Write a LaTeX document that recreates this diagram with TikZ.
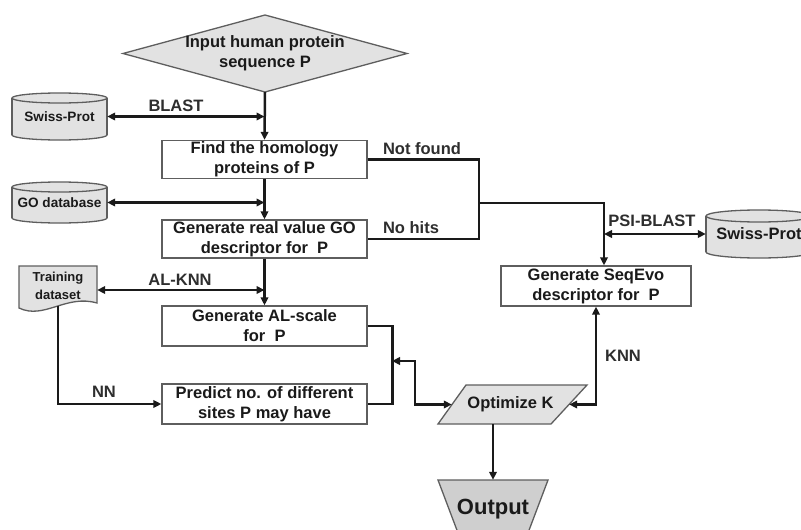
\documentclass[tikz,border=0pt]{standalone}
\usepackage{fontspec}
\setmainfont{Liberation Sans}
\usetikzlibrary{arrows.meta}
\definecolor{ink}{HTML}{1A1A1A}
\definecolor{lbltext}{HTML}{2E2E2E}
\definecolor{boxline}{HTML}{5E5E5E}
\definecolor{lightfill}{HTML}{E2E2E2}
\definecolor{darkfill}{HTML}{CFCFCF}
\begin{document}
\begin{tikzpicture}[x=1pt,y=-1pt,
  conn/.style={draw=ink, line width=2.5pt},
  tip/.style={-{Triangle[length=8pt,width=7.5pt]}},
  dbl/.style={{Triangle[length=8pt,width=7.5pt]}-{Triangle[length=8pt,width=7.5pt]}},
  procbox/.style={draw=boxline, line width=1.3pt, fill=white, minimum width=205pt, minimum height=38pt, align=center, text=ink, font=\fontsize{16.5}{20}\selectfont\bfseries, inner sep=0pt},
  shapeline/.style={draw=boxline, line width=1.3pt},
  plaintext/.style={align=center, text=ink, inner sep=0pt, font=\fontsize{16.5}{20}\selectfont\bfseries},
  dbtext/.style={align=center, text=ink, inner sep=0pt, font=\fontsize{13.6}{18}\selectfont\bfseries},
  lbl/.style={text=lbltext, inner sep=0pt, font=\fontsize{16.5}{20}\selectfont\bfseries}
]
\path[use as bounding box, fill=white] (0,0) rectangle (801,530);

% ---- shapes drawn first ----
% diamond
\path[shapeline, fill=lightfill] (265,15) -- (407,53.5) -- (265,92) -- (123,53.5) -- cycle;
% Swiss-Prot (left) cylinder
\filldraw[shapeline, fill=lightfill] (59.5,135) ellipse [x radius=47.5pt, y radius=5pt];
\fill[lightfill] (12,98) rectangle (107,135);
\draw[shapeline] (12,98) -- (12,135) (107,98) -- (107,135);
\filldraw[shapeline, fill=lightfill] (59.5,98) ellipse [x radius=47.5pt, y radius=5pt];
% GO database cylinder
\filldraw[shapeline, fill=lightfill] (59.5,218) ellipse [x radius=47.5pt, y radius=5pt];
\fill[lightfill] (12,187) rectangle (107,218);
\draw[shapeline] (12,187) -- (12,218) (107,187) -- (107,218);
\filldraw[shapeline, fill=lightfill] (59.5,187) ellipse [x radius=47.5pt, y radius=5pt];
% Swiss-Prot (right) cylinder
\filldraw[shapeline, fill=lightfill] (759,252) ellipse [x radius=53pt, y radius=6pt];
\fill[lightfill] (706,216) rectangle (812,252);
\draw[shapeline] (706,216) -- (706,252) (812,216) -- (812,252);
\filldraw[shapeline, fill=lightfill] (759,216) ellipse [x radius=53pt, y radius=6pt];
% Training dataset document
\path[shapeline, fill=lightfill] (19,266) -- (97,266) -- (97,303)
   .. controls (66,294) and (44,320) .. (19,308) -- cycle;
% Optimize K parallelogram
\path[shapeline, fill=lightfill] (466,385) -- (587,385) -- (551,424) -- (438,424) -- cycle;
% Output trapezoid
\path[shapeline, fill=darkfill] (438,480) -- (548,480) -- (517,562) -- (469,562) -- cycle;

% ---- nodes ----
\node[plaintext, minimum width=284pt, minimum height=77pt] (inp) at (265,53.5) {Input human protein\\sequence P};
\node[dbtext, minimum width=95pt, minimum height=47pt] (swissl) at (59.5,116.5) {Swiss-Prot};
\node[dbtext, minimum width=95pt, minimum height=41pt] (godb) at (59.5,202.5) {GO database};
\node[plaintext, minimum width=106pt, minimum height=48pt] (swissr) at (759,234) {Swiss-Prot};
\node[dbtext, font=\fontsize{13}{18}\selectfont\bfseries, minimum width=78pt, minimum height=40pt] (train) at (58,286) {Training\\dataset};

\node[procbox] (find) at (264.5,159.5) {Find the homology\\proteins of P};
\node[procbox] (go) at (264.5,239) {Generate real value GO\\descriptor for\ \ P};
\node[procbox, minimum height=40pt] (al) at (264.5,326) {Generate AL-scale\\for\ \ P};
\node[procbox, minimum height=40pt] (pred) at (264.5,404) {Predict no. of different\\sites P may have};
\node[procbox, minimum width=190pt, minimum height=40pt] (seq) at (596,286) {Generate SeqEvo\\descriptor for\ \ P};
\node[plaintext, minimum width=117pt, minimum height=39pt] (opt) at (510.5,404.5) {Optimize K};
\node[plaintext, font=\fontsize{22}{26}\selectfont\bfseries, minimum width=110pt, minimum height=58pt] (out) at (493,509) {Output};

% ---- helper coordinates ----
\coordinate (trainout) at ([yshift=-4pt]train.east);
\coordinate (blastpt) at (find.north |- swissl.east);
\coordinate (gopt) at (go.north |- godb.east);
\coordinate (alpt) at (al.north |- trainout);
\coordinate (j1) at (479,203);
\coordinate (psimid) at ([xshift=8pt]seq.north |- swissr.west);
\coordinate (brkbot) at ([xshift=25pt]pred.east);
\coordinate (brkmid) at (392,361);
\coordinate (optturn) at (415,404.5);
\coordinate (knnturn) at (596,404.5);

% ---- connectors ----
\draw[conn, tip] (inp.south) -- (find.north);
\draw[conn, dbl] (swissl.east) -- (blastpt);
\draw[conn, tip] (find.south) -- (go.north);
\draw[conn, dbl] (godb.east) -- (gopt);
\draw[conn, tip] (go.south) -- (al.north);
\draw[conn, dbl] (trainout) -- (alpt);
\draw[conn, tip] (train.south) |- (pred.west);
\draw[conn] (al.east) -| (brkbot) -- (pred.east);
\draw[conn, dbl] (brkmid) -| (optturn) -- (opt.west);
\draw[conn] (find.east) -| (j1) |- (go.east);
\draw[conn, tip] (j1) -| ([xshift=8pt]seq.north);
\draw[conn, dbl] (psimid) -- (swissr.west);
\draw[conn, dbl] (opt.east) -- (knnturn) -- (seq.south);
\draw[conn, tip] (out.north |- opt.south) -- (out.north);

% ---- labels ----
\node[lbl] (lblast) at (176,106) {BLAST};
\node[lbl] (lalknn) at (180,280) {AL-KNN};
\node[lbl] (lnn) at (104,392) {NN};
\node[lbl] (lnotfound) at (422,149) {Not found};
\node[lbl] (lnohits) at (411,228) {No hits};
\node[lbl] (lpsi) at (652,221) {PSI-BLAST};
\node[lbl] (lknn) at (623,356) {KNN};
\end{tikzpicture}
\end{document}
